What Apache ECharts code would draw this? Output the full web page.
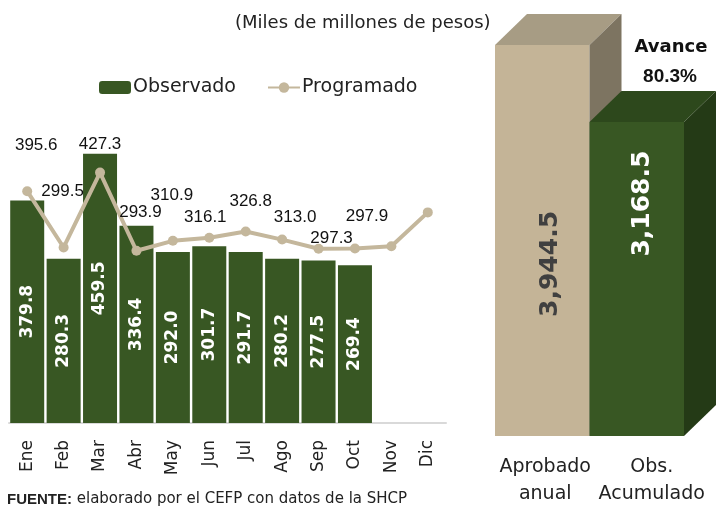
<!DOCTYPE html>
<html>
<head>
<meta charset="utf-8">
<script src="https://cdn.jsdelivr.net/npm/echarts@6/dist/echarts.min.js"></script>
<style>
  html, body { margin: 0; padding: 0; background: #fff; }
  #chart { width: 721px; height: 508px; }
</style>
</head>
<body>
<div id="chart"></div>
<script>
// meses
var meses = ['Ene', 'Feb', 'Mar', 'Abr', 'May', 'Jun', 'Jul', 'Ago', 'Sep', 'Oct', 'Nov', 'Dic'];
// observado (miles de millones)
var observado = [379.8, 280.3, 459.5, 336.4, 292.0, 301.7, 291.7, 280.2, 277.5, 269.4, null, null];
// programado
var programado = [395.6, 299.5, 427.3, 293.9, 310.9, 316.1, 326.8, 313.0, 297.3, 297.9, 301.6, 359.4];
// acumulado anual
var anualCats = ['Aprobado\nanual', 'Obs.\nAcumulado'];
var anualValores = [3944.5, 3168.5];

// posicion de las etiquetas del programado (como en el original)
var progLabelOffset = [[9, -46], [-1, -56], [0, -28], [4, -38], [-1, -46], [-4, -20], [5, -30], [13, -22], [13, -10], [12, -32], null, null];

var font = 'DejaVu Sans';
var avance = (anualValores[1] / anualValores[0] * 100).toFixed(1) + '%';

function fmtMiles(v) {
  return v.toFixed(1).replace(/\B(?=(\d{3})+(?!\d))/g, ',');
}

var caras = [
  { front: '#C4B497', top: '#A79C84', side: '#7D7461', label: '#404040', frac: 0.44, dx: 8 },
  { front: '#385723', top: '#2D481C', side: '#243A16', label: '#ffffff', frac: 0.74, dx: 6 }
];

var myChart = echarts.init(document.getElementById('chart'));

var progData = programado.map(function (v, i) {
  var off = progLabelOffset[i];
  return {
    value: v,
    label: off ? { show: true, position: 'inside', offset: off } : { show: false }
  };
});

var option = {
  animation: false,
  title: [{
    text: '(Miles de millones de pesos)',
    left: 230,
    top: 9,
    textStyle: { fontFamily: font, fontSize: 18, fontWeight: 'normal', color: '#222' }
  }, {
    text: '{b|FUENTE:} elaborado por el CEFP con datos de la SHCP',
    left: 2,
    top: 487,
    textStyle: {
      fontFamily: font, fontSize: 15, fontWeight: 'normal', color: '#222',
      rich: { b: { fontFamily: 'Liberation Sans', fontWeight: 'bold', fontSize: 15, color: '#222' } }
    }
  }],
  graphic: [{
    type: 'text',
    x: 671,
    y: 47,
    style: { text: 'Avance', align: 'center', verticalAlign: 'middle', fontFamily: font, fontSize: 18, fontWeight: 'bold', fill: '#111' }
  }, {
    type: 'text',
    x: 670,
    y: 77,
    style: { text: avance, align: 'center', verticalAlign: 'middle', fontFamily: 'Liberation Sans', fontSize: 19, fontWeight: 'bold', fill: '#111' }
  }],
  legend: {
    data: ['Observado', 'Programado'],
    left: 94,
    top: 73,
    itemWidth: 32,
    itemHeight: 13,
    itemGap: 31,
    textStyle: { fontFamily: font, fontSize: 19, color: '#222', padding: [0, 0, 0, -3] }
  },
  grid: [
    { left: 9, right: 275, top: 130, bottom: 85 },
    { left: 495, right: 37, top: 39.5, bottom: 71 }
  ],
  xAxis: [{
    type: 'category',
    gridIndex: 0,
    data: meses,
    axisTick: { show: false },
    axisLine: { lineStyle: { color: '#D9D9D9', width: 2 } },
    axisLabel: { interval: 0, rotate: 90, margin: 17, fontFamily: font, fontSize: 17, color: '#222' }
  }, {
    type: 'category',
    gridIndex: 1,
    data: anualCats,
    axisTick: { show: false },
    axisLine: { show: false },
    axisLabel: {
      interval: 0,
      hideOverlap: false,
      margin: 18,
      fontFamily: font, fontSize: 19, color: '#222', lineHeight: 27,
      formatter: function (v, i) {
        return i === 1 ? '{r|' + v.replace('\n', '}\n{r|') + '}' : '{l|' + v.replace('\n', '}\n{l|') + '}';
      },
      rich: {
        l: { fontFamily: font, fontSize: 19, color: '#222', lineHeight: 27, padding: [0, 0, 0, 6] },
        r: { fontFamily: font, fontSize: 19, color: '#222', lineHeight: 27, padding: [0, 0, 0, 30] }
      }
    }
  }],
  yAxis: [
    { type: 'value', gridIndex: 0, min: 0, max: 500, show: false },
    { type: 'value', gridIndex: 1, min: 0, max: 4000, show: false }
  ],
  series: [{
    name: 'Observado',
    type: 'bar',
    xAxisIndex: 0,
    yAxisIndex: 0,
    barWidth: 34,
    itemStyle: { color: '#385723' },
    label: {
      show: true,
      position: 'inside',
      rotate: 90,
      fontFamily: font,
      fontSize: 17,
      fontWeight: 'bold',
      color: '#fff',
      formatter: function (p) { return p.value.toFixed(1); }
    },
    data: observado
  }, {
    name: 'Programado',
    type: 'line',
    xAxisIndex: 0,
    yAxisIndex: 0,
    symbol: 'circle',
    symbolSize: 10,
    itemStyle: { color: '#C4B79C' },
    lineStyle: { color: '#C4B79C', width: 4 },
    label: {
      fontFamily: 'Liberation Sans',
      fontSize: 17,
      color: '#111',
      formatter: function (p) { return p.value.toFixed(1); }
    },
    z: 3,
    data: progData
  }, {
    name: 'Anual',
    type: 'custom',
    xAxisIndex: 1,
    yAxisIndex: 1,
    renderItem: function (params, api) {
      var i = api.value(0);
      var v = api.value(1);
      var top = api.coord([i, v]);
      var base = api.coord([i, 0]);
      var w = api.size([1, 0])[0];
      var x0 = top[0] - w / 2, x1 = top[0] + w / 2;
      var dx = 32, dy = 31;
      var c = caras[i];
      return {
        type: 'group',
        children: [{
          type: 'rect',
          shape: { x: x0, y: top[1], width: w, height: base[1] - top[1] },
          style: { fill: c.front }
        }, {
          type: 'polygon',
          shape: { points: [[x0, top[1]], [x0 + dx, top[1] - dy], [x1 + dx, top[1] - dy], [x1, top[1]]] },
          style: { fill: c.top }
        }, {
          type: 'polygon',
          shape: { points: [[x1, top[1]], [x1 + dx, top[1] - dy], [x1 + dx, base[1] - dy], [x1, base[1]]] },
          style: { fill: c.side }
        }, {
          type: 'text',
          x: top[0] + c.dx,
          y: base[1] - (base[1] - top[1]) * c.frac,
          rotation: Math.PI / 2,
          style: {
            text: fmtMiles(v),
            align: 'center',
            verticalAlign: 'middle',
            fontFamily: font,
            fontSize: 25,
            fontWeight: 'bold',
            fill: c.label
          }
        }]
      };
    },
    data: anualValores.map(function (v, i) { return [i, v]; })
  }]
};

myChart.setOption(option);
</script>
</body>
</html>
